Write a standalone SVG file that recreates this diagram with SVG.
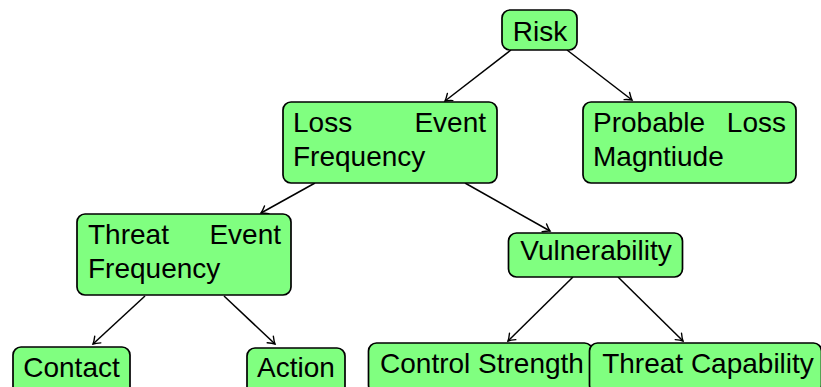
<svg xmlns="http://www.w3.org/2000/svg" width="821" height="387" viewBox="0 0 821 387">
<style>
.box{fill:#80ff80;stroke:#000;stroke-width:1.7}
.t{font-family:"Liberation Sans",Arial,sans-serif;font-size:28px;fill:#000}
.m{text-anchor:middle}
.e{text-anchor:end}
.c{stroke:#000;stroke-width:1.5;fill:none;marker-end:url(#arr)}
</style>
<defs>
<marker id="arr" markerUnits="userSpaceOnUse" markerWidth="12" markerHeight="12" viewBox="-8 -6 10 12" refX="0" refY="0" orient="auto">
<path d="M -6.5 -4.5 Q -2.5 -1.2 0 0 Q -2.5 1.2 -6.5 4.5" fill="none" stroke="#000" stroke-width="1.4" stroke-linecap="round"/>
</marker>
</defs>
<g id="connectors">
<line class="c" x1="511" y1="50" x2="445" y2="101"/>
<line class="c" x1="567" y1="50" x2="632" y2="100"/>
<line class="c" x1="315" y1="183" x2="261" y2="213"/>
<line class="c" x1="465" y1="183" x2="550" y2="231"/>
<line class="c" x1="145" y1="296" x2="93" y2="344"/>
<line class="c" x1="224" y1="296" x2="275" y2="344"/>
<line class="c" x1="573" y1="277" x2="508" y2="341"/>
<line class="c" x1="618" y1="277" x2="683" y2="341"/>
</g>
<g id="risk">
<rect class="box" x="502" y="10" width="75" height="40" rx="8"/>
<text class="t m" x="540" y="40.5">Risk</text>
</g>
<g id="lef">
<rect class="box" x="283" y="102" width="214" height="81" rx="8"/>
<text class="t" x="293" y="132">Loss</text>
<text class="t e" x="486" y="132">Event</text>
<text class="t" x="293" y="166">Frequency</text>
</g>
<g id="plm">
<rect class="box" x="583" y="102" width="213" height="81" rx="8"/>
<text class="t" x="593" y="132">Probable</text>
<text class="t e" x="786" y="132">Loss</text>
<text class="t" x="593" y="166">Magntiude</text>
</g>
<g id="tef">
<rect class="box" x="77" y="214" width="214" height="81" rx="8"/>
<text class="t" x="88" y="244">Threat</text>
<text class="t e" x="281" y="244">Event</text>
<text class="t" x="88" y="278">Frequency</text>
</g>
<g id="vulnerability">
<rect class="box" x="508.5" y="233" width="174" height="44" rx="8"/>
<text class="t m" x="596" y="260">Vulnerability</text>
</g>
<g id="contact">
<rect class="box" x="13" y="347" width="117" height="50" rx="8"/>
<text class="t m" x="71.5" y="377">Contact</text>
</g>
<g id="action">
<rect class="box" x="247" y="348" width="98" height="50" rx="8"/>
<text class="t m" x="296" y="377">Action</text>
</g>
<g id="control-strength">
<rect class="box" x="368.5" y="343" width="224" height="50" rx="8"/>
<text class="t m" x="482" y="373">Control Strength</text>
</g>
<g id="threat-capability">
<rect class="box" x="589.5" y="343" width="232" height="50" rx="8"/>
<text class="t m" x="708" y="373">Threat Capability</text>
</g>
</svg>
